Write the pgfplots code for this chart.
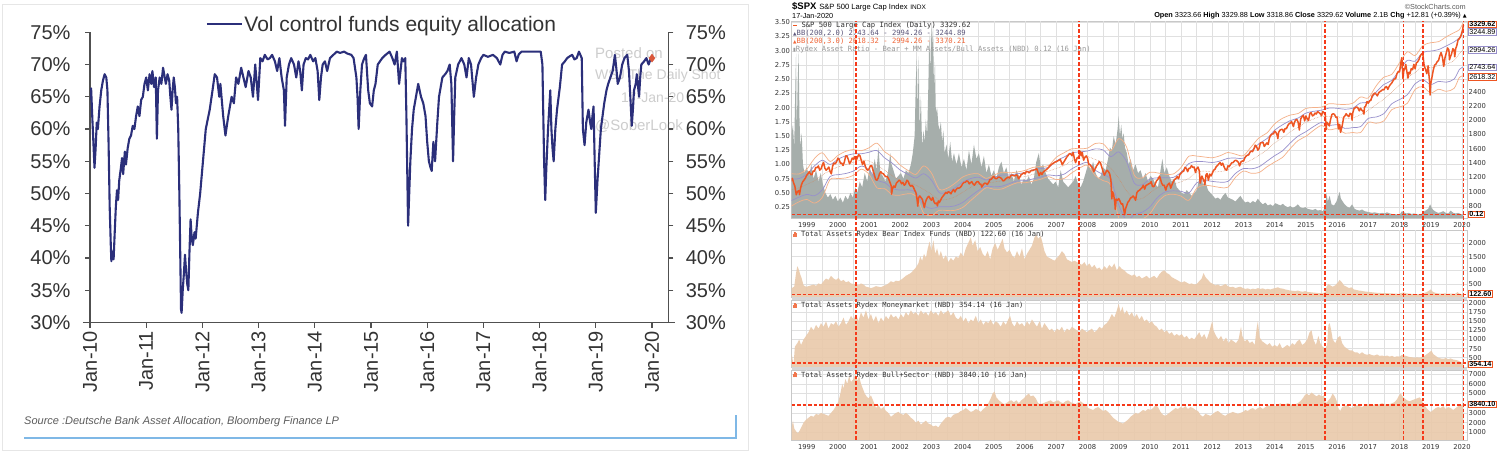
\documentclass[border=0pt]{standalone}
\usepackage{fontspec}
\setmainfont{Liberation Sans}
\newfontfamily\dv{DejaVu Sans}
\newfontfamily\dvm{DejaVu Sans Mono}
\usepackage{pgfplots}
\pgfplotsset{compat=1.18}
\usepackage{pgfplotstable}
\usepgfplotslibrary{fillbetween}
\newcommand\fs[1]{\fontsize{#1}{#1}\selectfont}
\definecolor{navy}{HTML}{2B2F7A}
\definecolor{axg}{HTML}{505050}
\definecolor{lab}{HTML}{333333}
\definecolor{wm}{HTML}{CDCDCD}
\definecolor{diam}{HTML}{D9573B}
\definecolor{srcblue}{HTML}{7FB8E6}
\definecolor{frame}{HTML}{E6E6E6}
\definecolor{spx}{HTML}{EE5522}
\definecolor{bbtwo}{HTML}{9890CC}
\definecolor{bbthree}{HTML}{F5B088}
\definecolor{bbmid}{HTML}{D08860}
\definecolor{ratiog}{HTML}{A6AEAB}
\definecolor{tan}{HTML}{E9C9AA}
\definecolor{reddash}{HTML}{F53A1A}
\definecolor{gridc}{HTML}{E0E0E0}
\definecolor{pgray}{HTML}{C8C8C8}
\definecolor{strip}{HTML}{D6D6D6}
\definecolor{tk}{HTML}{333333}
\definecolor{bbfillin}{HTML}{8A6A9A}

\pgfplotstableread{
x y
2010.00 64.5
2010.02 66.3
2010.04 62
2010.06 58
2010.08 54
2010.10 57
2010.12 61
2010.14 60
2010.17 63.5
2010.20 66
2010.23 67.5
2010.26 68.5
2010.29 68
2010.31 66
2010.33 58
2010.35 48
2010.37 42
2010.38 39.5
2010.40 41
2010.42 39.8
2010.44 44
2010.46 48
2010.48 50.5
2010.50 49
2010.52 52
2010.55 54
2010.57 55.5
2010.59 53
2010.62 56.5
2010.64 54.5
2010.67 57
2010.70 58.5
2010.73 59
2010.76 60.5
2010.79 60
2010.82 62
2010.85 63.5
2010.88 62
2010.91 64.5
2010.94 65
2010.97 67
2011.00 68
2011.03 66
2011.06 68.5
2011.09 67
2011.11 69
2011.14 66.5
2011.17 68
2011.19 58.5
2011.21 66
2011.24 68
2011.27 67
2011.30 69.5
2011.32 68.5
2011.35 67
2011.38 68.5
2011.41 67.5
2011.43 65
2011.45 63
2011.47 66
2011.49 68
2011.51 66.5
2011.53 64
2011.55 65
2011.57 60
2011.59 50
2011.61 38
2011.62 32
2011.63 31.5
2011.65 35
2011.67 37.5
2011.69 40.5
2011.71 38
2011.73 36
2011.75 35
2011.77 41
2011.79 46
2011.81 43
2011.83 42
2011.86 44
2011.88 43
2011.92 47
2011.96 50
2012.01 55
2012.06 60
2012.13 63
2012.18 66
2012.22 68.5
2012.26 68
2012.30 65
2012.32 67
2012.37 62
2012.41 59
2012.46 62
2012.52 65
2012.56 64
2012.60 68
2012.64 67
2012.69 69.5
2012.73 68
2012.77 66.5
2012.82 69
2012.86 68
2012.90 65
2012.94 70
2012.99 64.5
2013.03 71
2013.07 70.5
2013.11 71.5
2013.16 70.8
2013.20 71
2013.24 71.5
2013.29 70.5
2013.33 69
2013.37 71
2013.41 68
2013.45 66
2013.47 60.5
2013.50 68
2013.54 70
2013.58 71
2013.63 70
2013.67 68
2013.71 70.5
2013.74 69
2013.77 66
2013.80 70
2013.84 71
2013.88 70.8
2013.92 71.5
2013.97 70.5
2014.01 71
2014.05 69
2014.08 64.5
2014.11 68
2014.14 70
2014.18 70.5
2014.22 69
2014.27 71
2014.33 71.5
2014.39 72
2014.45 71.8
2014.52 72
2014.58 71.7
2014.65 71.5
2014.69 71
2014.74 68
2014.76 65
2014.78 60
2014.81 66
2014.84 70
2014.88 71
2014.91 71.5
2014.95 66
2014.98 64
2015.02 63.5
2015.05 66
2015.08 67
2015.12 70
2015.16 70.5
2015.20 71
2015.26 71.5
2015.33 72
2015.38 71
2015.42 70
2015.46 72
2015.50 67
2015.55 71
2015.58 70.5
2015.61 71
2015.63 62
2015.66 45
2015.68 50
2015.70 55
2015.73 60
2015.76 63
2015.80 65
2015.84 67
2015.89 65
2015.93 64
2015.97 62
2016.00 58
2016.03 55
2016.06 54
2016.08 53.5
2016.11 58
2016.14 55
2016.18 61
2016.21 65
2016.27 68
2016.32 68.5
2016.36 69
2016.40 70
2016.43 67
2016.46 55
2016.48 62
2016.50 68
2016.55 70
2016.61 71
2016.66 70
2016.70 68
2016.74 71
2016.78 70
2016.83 65
2016.87 68
2016.91 70
2016.96 71
2017.00 71.5
2017.08 71.2
2017.17 71.5
2017.24 71
2017.30 70
2017.34 71.5
2017.38 72
2017.46 71.8
2017.55 72
2017.59 70.5
2017.63 71.6
2017.68 72
2017.78 72
2017.88 72
2017.95 72
2018.02 72
2018.05 70
2018.08 55
2018.10 49
2018.12 54
2018.15 60
2018.19 66
2018.21 60
2018.23 57
2018.25 55
2018.28 60
2018.31 63
2018.36 66.5
2018.40 70
2018.45 70.5
2018.49 71
2018.54 71.3
2018.58 71.5
2018.62 70.8
2018.66 71
2018.70 72
2018.75 71
2018.77 60
2018.80 57.5
2018.83 61
2018.87 63
2018.90 61
2018.92 60
2018.94 62
2018.96 63.5
2018.98 55
2019.00 47
2019.03 52
2019.06 56
2019.09 60
2019.12 62
2019.15 64
2019.19 66
2019.22 67
2019.26 68
2019.30 69
2019.34 71.5
2019.37 69
2019.39 67
2019.43 68
2019.47 70
2019.51 71
2019.56 71.5
2019.59 69
2019.62 64
2019.64 60.5
2019.66 63
2019.68 66
2019.71 67
2019.73 68.5
2019.77 65
2019.79 68
2019.81 70
2019.86 70.5
2019.90 71
2019.94 70
2019.98 71
}\volctl

\pgfplotstableread{
x y
1998.50 1148
1998.54 1186
1998.583 1120
1998.62 1080
1998.667 957
1998.70 1000
1998.75 1017
1998.77 959
1998.80 1040
1998.833 1098
1998.875 1140
1998.917 1163
1998.96 1190
1999.00 1229
1999.04 1250
1999.083 1280
1999.125 1240
1999.167 1238
1999.21 1290
1999.25 1286
1999.29 1340
1999.333 1335
1999.375 1360
1999.417 1301
1999.46 1320
1999.50 1372
1999.54 1410
1999.583 1329
1999.625 1300
1999.667 1320
1999.71 1345
1999.75 1282
1999.79 1250
1999.833 1362
1999.875 1400
1999.917 1389
1999.96 1420
2000.00 1469
2000.04 1450
2000.083 1394
2000.125 1400
2000.167 1366
2000.21 1420
2000.25 1499
2000.29 1500
2000.333 1452
2000.375 1390
2000.417 1421
2000.46 1470
2000.50 1455
2000.54 1490
2000.583 1431
2000.625 1480
2000.667 1518
2000.71 1500
2000.75 1437
2000.79 1380
2000.833 1429
2000.875 1360
2000.917 1315
2000.96 1300
2001.00 1320
2001.04 1360
2001.083 1366
2001.125 1300
2001.167 1240
2001.21 1170
2001.25 1160
2001.29 1190
2001.333 1249
2001.375 1280
2001.417 1256
2001.46 1250
2001.50 1224
2001.54 1210
2001.583 1211
2001.625 1180
2001.667 1134
2001.71 1080
2001.72 966
2001.75 1041
2001.79 1080
2001.833 1060
2001.875 1120
2001.917 1139
2001.96 1160
2002.00 1148
2002.04 1110
2002.083 1130
2002.125 1090
2002.167 1107
2002.21 1160
2002.25 1147
2002.29 1100
2002.333 1076
2002.375 1090
2002.417 1067
2002.46 1020
2002.50 990
2002.54 880
2002.56 797
2002.583 912
2002.625 940
2002.667 916
2002.71 890
2002.75 815
2002.77 777
2002.80 840
2002.833 886
2002.875 920
2002.917 936
2002.96 900
2003.00 880
2003.04 920
2003.083 856
2003.125 830
2003.167 841
2003.19 800
2003.22 870
2003.25 848
2003.29 880
2003.333 917
2003.375 940
2003.417 964
2003.46 990
2003.50 975
2003.54 1000
2003.583 990
2003.625 970
2003.667 1008
2003.71 1030
2003.75 996
2003.79 1030
2003.833 1051
2003.875 1050
2003.917 1058
2003.96 1080
2004.00 1112
2004.04 1130
2004.083 1131
2004.125 1150
2004.167 1145
2004.21 1110
2004.25 1126
2004.29 1140
2004.333 1107
2004.375 1090
2004.417 1121
2004.46 1140
2004.50 1141
2004.54 1110
2004.583 1102
2004.61 1064
2004.667 1104
2004.71 1120
2004.75 1115
2004.79 1100
2004.833 1130
2004.875 1170
2004.917 1174
2004.96 1200
2005.00 1212
2005.04 1185
2005.083 1181
2005.125 1200
2005.167 1204
2005.21 1195
2005.25 1181
2005.29 1150
2005.333 1157
2005.375 1180
2005.417 1192
2005.46 1205
2005.50 1191
2005.54 1225
2005.583 1234
2005.625 1225
2005.667 1220
2005.71 1235
2005.75 1229
2005.79 1180
2005.833 1207
2005.875 1240
2005.917 1249
2005.96 1265
2006.00 1248
2006.04 1285
2006.083 1280
2006.125 1265
2006.167 1281
2006.21 1300
2006.25 1295
2006.29 1305
2006.333 1311
2006.375 1320
2006.417 1270
2006.45 1223
2006.50 1270
2006.54 1240
2006.583 1277
2006.625 1290
2006.667 1304
2006.71 1320
2006.75 1336
2006.79 1360
2006.833 1378
2006.875 1390
2006.917 1401
2006.96 1415
2007.00 1418
2007.04 1430
2007.083 1438
2007.125 1455
2007.167 1407
2007.19 1375
2007.25 1421
2007.29 1450
2007.333 1482
2007.375 1505
2007.417 1531
2007.46 1530
2007.50 1503
2007.54 1550
2007.583 1455
2007.62 1406
2007.667 1474
2007.71 1480
2007.75 1527
2007.77 1565
2007.80 1500
2007.833 1549
2007.875 1440
2007.917 1481
2007.96 1500
2008.00 1468
2008.04 1380
2008.083 1378
2008.125 1350
2008.167 1331
2008.20 1280
2008.25 1323
2008.29 1360
2008.333 1386
2008.375 1420
2008.417 1400
2008.46 1340
2008.50 1280
2008.54 1230
2008.583 1267
2008.625 1300
2008.667 1283
2008.71 1250
2008.75 1166
2008.78 899
2008.80 1000
2008.833 969
2008.875 850
2008.89 752
2008.917 896
2008.96 880
2009.00 903
2009.04 870
2009.083 826
2009.125 830
2009.167 735
2009.19 677
2009.22 760
2009.25 798
2009.29 850
2009.333 873
2009.375 910
2009.417 919
2009.46 940
2009.50 919
2009.54 880
2009.583 987
2009.625 1010
2009.667 1021
2009.71 1040
2009.75 1057
2009.79 1090
2009.833 1036
2009.875 1090
2009.917 1096
2009.96 1110
2010.00 1115
2010.04 1140
2010.083 1074
2010.125 1070
2010.167 1104
2010.21 1150
2010.25 1169
2010.31 1217
2010.333 1187
2010.375 1120
2010.417 1089
2010.46 1090
2010.50 1031
2010.51 1022
2010.54 1070
2010.583 1102
2010.625 1120
2010.667 1049
2010.71 1100
2010.75 1141
2010.79 1170
2010.833 1183
2010.875 1210
2010.917 1181
2010.96 1240
2011.00 1258
2011.04 1280
2011.083 1286
2011.125 1340
2011.167 1327
2011.21 1280
2011.25 1326
2011.29 1330
2011.333 1364
2011.375 1340
2011.417 1345
2011.46 1270
2011.50 1321
2011.54 1345
2011.583 1292
2011.61 1120
2011.64 1180
2011.667 1219
2011.71 1170
2011.75 1131
2011.76 1099
2011.80 1240
2011.833 1253
2011.875 1160
2011.917 1247
2011.96 1220
2012.00 1258
2012.04 1300
2012.083 1312
2012.125 1350
2012.167 1366
2012.21 1390
2012.25 1408
2012.29 1370
2012.333 1398
2012.375 1350
2012.417 1310
2012.46 1300
2012.50 1362
2012.54 1350
2012.583 1379
2012.625 1405
2012.667 1407
2012.71 1430
2012.75 1441
2012.79 1430
2012.833 1412
2012.875 1360
2012.917 1416
2012.96 1430
2013.00 1426
2013.04 1470
2013.083 1498
2013.125 1510
2013.167 1515
2013.21 1555
2013.25 1569
2013.29 1560
2013.333 1598
2013.375 1650
2013.417 1631
2013.46 1580
2013.50 1606
2013.54 1680
2013.583 1686
2013.625 1690
2013.667 1633
2013.71 1660
2013.75 1682
2013.79 1660
2013.833 1757
2013.875 1790
2013.917 1806
2013.96 1810
2014.00 1848
2014.04 1830
2014.083 1783
2014.10 1741
2014.125 1830
2014.167 1859
2014.21 1870
2014.25 1872
2014.29 1830
2014.333 1884
2014.375 1880
2014.417 1924
2014.46 1950
2014.50 1960
2014.54 1980
2014.583 1931
2014.60 1910
2014.625 1960
2014.667 2003
2014.71 2010
2014.75 1972
2014.79 1862
2014.833 2018
2014.875 2050
2014.917 2068
2014.96 1990
2015.00 2059
2015.04 2020
2015.083 1995
2015.125 2090
2015.167 2105
2015.21 2060
2015.25 2068
2015.29 2100
2015.333 2086
2015.375 2120
2015.417 2107
2015.46 2090
2015.50 2063
2015.54 2120
2015.583 2104
2015.62 2080
2015.65 1867
2015.667 1972
2015.71 1950
2015.75 1920
2015.79 2010
2015.833 2079
2015.875 2090
2015.917 2080
2015.96 2040
2016.00 2044
2016.04 1880
2016.083 1940
2016.11 1829
2016.167 1932
2016.21 2040
2016.25 2060
2016.29 2090
2016.333 2065
2016.375 2050
2016.417 2097
2016.46 2080
2016.48 2000
2016.50 2099
2016.54 2160
2016.583 2174
2016.625 2185
2016.667 2171
2016.71 2130
2016.75 2168
2016.79 2140
2016.833 2126
2016.86 2085
2016.875 2180
2016.917 2199
2016.96 2260
2017.00 2239
2017.04 2270
2017.083 2279
2017.125 2340
2017.167 2364
2017.21 2380
2017.25 2363
2017.29 2340
2017.333 2384
2017.375 2400
2017.417 2412
2017.46 2430
2017.50 2423
2017.54 2460
2017.583 2470
2017.625 2430
2017.667 2472
2017.71 2500
2017.75 2519
2017.79 2550
2017.833 2575
2017.875 2580
2017.917 2648
2017.96 2680
2018.00 2674
2018.04 2790
2018.07 2873
2018.083 2824
2018.11 2581
2018.14 2700
2018.167 2714
2018.20 2780
2018.25 2641
2018.27 2588
2018.30 2670
2018.333 2648
2018.375 2720
2018.417 2705
2018.46 2780
2018.50 2718
2018.54 2800
2018.583 2816
2018.625 2850
2018.667 2902
2018.72 2930
2018.75 2914
2018.79 2760
2018.833 2711
2018.875 2650
2018.917 2760
2018.96 2550
2018.98 2351
2019.00 2507
2019.04 2600
2019.083 2704
2019.125 2770
2019.167 2784
2019.21 2820
2019.25 2834
2019.29 2900
2019.333 2946
2019.375 2880
2019.417 2752
2019.46 2880
2019.50 2942
2019.54 3010
2019.583 2980
2019.60 2844
2019.625 2880
2019.667 2926
2019.71 3000
2019.75 2977
2019.77 2887
2019.80 3000
2019.833 3038
2019.875 3120
2019.917 3141
2019.96 3170
2020.00 3231
2020.02 3260
2020.046 3330
}\spxdata

\pgfplotstableread{
x m u2 l2 u3 l3
1998.50 1025 1177 873 1253 797
1998.75 1053 1183 923 1248 858
1999.00 1102 1242 962 1312 892
1999.25 1152 1360 944 1464 840
1999.50 1232 1440 1024 1544 920
1999.75 1297 1381 1213 1423 1171
2000.00 1345 1453 1237 1507 1183
2000.25 1378 1502 1254 1564 1192
2000.50 1409 1529 1289 1589 1229
2000.75 1444 1530 1358 1573 1315
2001.00 1428 1552 1304 1614 1242
2001.25 1367 1575 1159 1679 1055
2001.50 1300 1472 1128 1558 1042
2001.75 1220 1396 1044 1484 956
2002.00 1162 1302 1022 1372 952
2002.25 1134 1242 1026 1296 972
2002.50 1091 1191 991 1241 941
2002.75 1031 1251 811 1361 701
2003.00 963 1161 765 1260 666
2003.25 888 986 790 1035 741
2003.50 892 996 788 1048 736
2003.75 928 1054 802 1117 739
2004.00 992 1134 850 1205 779
2004.25 1059 1183 935 1245 873
2004.50 1109 1203 1015 1250 968
2004.75 1120 1164 1076 1186 1054
2005.00 1133 1199 1067 1232 1034
2005.25 1154 1232 1076 1271 1037
2005.50 1174 1234 1114 1264 1084
2005.75 1200 1250 1150 1275 1125
2006.00 1211 1269 1153 1298 1124
2006.25 1243 1307 1179 1339 1147
2006.50 1264 1324 1204 1354 1174
2006.75 1287 1339 1235 1365 1209
2007.00 1326 1430 1222 1482 1170
2007.25 1365 1485 1245 1545 1185
2007.50 1432 1544 1320 1600 1264
2007.75 1466 1556 1376 1601 1331
2008.00 1489 1569 1409 1609 1369
2008.25 1449 1599 1299 1674 1224
2008.50 1412 1584 1240 1670 1154
2008.75 1328 1490 1166 1571 1085
2009.00 1187 1557 817 1742 632
2009.25 1012 1422 602 1627 397
2009.50 900 1120 680 1230 570
2009.75 904 1096 712 1192 616
2010.00 982 1176 788 1273 691
2010.25 1058 1194 922 1262 854
2010.50 1096 1194 998 1243 949
2010.75 1106 1200 1012 1247 965
2011.00 1139 1273 1005 1340 938
2011.25 1188 1394 982 1497 879
2011.50 1273 1423 1123 1498 1048
2011.75 1287 1419 1155 1485 1089
2012.00 1276 1408 1144 1474 1078
2012.25 1281 1429 1133 1503 1059
2012.50 1305 1467 1143 1548 1062
2012.75 1364 1470 1258 1523 1205
2013.00 1396 1468 1324 1504 1288
2013.25 1443 1567 1319 1629 1257
2013.50 1511 1673 1349 1754 1268
2013.75 1584 1742 1426 1821 1347
2014.00 1682 1860 1504 1949 1415
2014.25 1753 1935 1571 2026 1480
2014.50 1838 1994 1682 2072 1604
2014.75 1904 2030 1778 2093 1715
2015.00 1969 2099 1839 2164 1774
2015.25 2018 2124 1912 2177 1859
2015.50 2054 2140 1968 2183 1925
2015.75 2048 2170 1926 2231 1865
2016.00 2052 2166 1938 2223 1881
2016.25 2019 2153 1885 2220 1818
2016.50 2032 2168 1896 2236 1828
2016.75 2075 2241 1909 2324 1826
2017.00 2140 2254 2026 2311 1969
2017.25 2218 2392 2044 2479 1957
2017.50 2296 2500 2092 2602 1990
2017.75 2393 2557 2229 2639 2147
2018.00 2494 2700 2288 2803 2185
2018.25 2596 2836 2356 2956 2236
2018.50 2667 2825 2509 2904 2430
2018.75 2756 2948 2564 3044 2468
2019.00 2732 2966 2498 3083 2381
2019.25 2765 2987 2543 3098 2432
2019.50 2785 3039 2531 3166 2404
2019.75 2835 3095 2575 3225 2445
2019.92 2932 3154 2710 3265 2599
2020.046 2994.26 3244.89 2743.64 3370.21 2618.32
}\bbdata

\pgfplotstableread{
x y
1998.52 1.55
1998.56 1.7
1998.60 1.3
1998.63 2.2
1998.66 2.95
1998.68 1.5
1998.71 2.4
1998.74 2.98
1998.77 1.8
1998.80 1.3
1998.84 1.55
1998.88 1.0
1998.93 0.85
1999.00 0.95
1999.08 0.8
1999.15 1.0
1999.22 0.75
1999.30 0.9
1999.38 0.7
1999.45 0.85
1999.52 0.65
1999.60 0.5
1999.68 0.42
1999.76 0.48
1999.84 0.38
1999.92 0.45
2000.00 0.35
2000.08 0.42
2000.16 0.33
2000.24 0.45
2000.32 0.38
2000.40 0.5
2000.48 0.42
2000.56 0.6
2000.62 0.5
2000.70 0.7
2000.78 0.6
2000.86 0.85
2000.94 0.7
2001.02 0.95
2001.10 0.8
2001.18 1.1
2001.24 0.9
2001.30 1.3
2001.36 0.85
2001.44 0.8
2001.52 0.7
2001.60 0.85
2001.68 1.2
2001.72 1.0
2001.78 0.9
2001.86 0.75
2001.94 0.8
2002.02 0.85
2002.10 0.75
2002.18 0.9
2002.26 0.85
2002.34 1.0
2002.40 1.2
2002.46 1.5
2002.50 2.5
2002.53 2.85
2002.56 1.9
2002.59 2.9
2002.62 1.6
2002.66 2.2
2002.70 1.3
2002.74 1.6
2002.78 1.4
2002.82 1.8
2002.86 1.5
2002.90 2.4
2002.93 3.3
2002.96 2.6
2002.99 3.4
2003.02 3.1
2003.05 3.45
2003.08 2.3
2003.11 2.8
2003.14 1.9
2003.18 2.0
2003.22 1.7
2003.26 1.6
2003.30 1.75
2003.34 1.4
2003.38 1.6
2003.42 1.2
2003.48 1.35
2003.54 1.1
2003.60 1.4
2003.66 1.05
2003.72 1.2
2003.80 1.0
2003.88 1.2
2003.96 0.95
2004.04 1.1
2004.12 0.9
2004.20 1.25
2004.28 1.0
2004.36 1.35
2004.44 1.1
2004.52 1.2
2004.60 0.95
2004.68 1.15
2004.76 0.85
2004.84 1.0
2004.92 0.8
2005.00 0.9
2005.08 0.75
2005.16 0.95
2005.24 1.05
2005.32 0.85
2005.40 0.95
2005.48 0.75
2005.56 0.85
2005.64 0.7
2005.72 0.9
2005.80 0.8
2005.88 0.65
2005.96 0.75
2006.04 0.7
2006.12 0.8
2006.20 0.65
2006.28 0.75
2006.36 1.05
2006.44 1.2
2006.50 0.95
2006.58 1.0
2006.66 0.85
2006.74 0.75
2006.82 0.7
2006.90 0.65
2006.98 0.7
2007.06 0.6
2007.14 0.9
2007.22 0.7
2007.30 0.65
2007.38 0.6
2007.46 0.65
2007.54 0.7
2007.62 0.8
2007.70 0.65
2007.78 0.6
2007.86 0.7
2007.94 0.85
2008.02 1.0
2008.10 0.9
2008.18 1.05
2008.26 0.85
2008.34 0.75
2008.42 0.8
2008.50 0.95
2008.58 0.9
2008.66 1.1
2008.72 1.3
2008.78 1.25
2008.84 1.5
2008.90 1.35
2008.96 1.6
2009.00 1.85
2009.04 1.5
2009.08 1.7
2009.12 1.45
2009.16 1.55
2009.20 1.3
2009.26 1.2
2009.32 1.0
2009.38 1.1
2009.46 0.9
2009.54 1.0
2009.62 0.85
2009.70 0.9
2009.78 0.75
2009.86 0.85
2009.94 0.7
2010.02 0.8
2010.10 0.75
2010.18 0.65
2010.26 0.6
2010.34 0.9
2010.40 1.1
2010.46 0.85
2010.54 0.95
2010.62 0.8
2010.70 0.7
2010.78 0.75
2010.86 0.6
2010.94 0.55
2011.02 0.5
2011.10 0.48
2011.18 0.55
2011.26 0.5
2011.34 0.45
2011.42 0.5
2011.50 0.55
2011.58 0.75
2011.64 0.8
2011.70 0.65
2011.78 0.7
2011.86 0.55
2011.94 0.5
2012.02 0.45
2012.10 0.4
2012.18 0.42
2012.26 0.38
2012.34 0.45
2012.42 0.5
2012.50 0.42
2012.58 0.4
2012.66 0.38
2012.74 0.35
2012.82 0.4
2012.90 0.45
2012.98 0.38
2013.06 0.33
2013.14 0.35
2013.22 0.32
2013.30 0.36
2013.38 0.33
2013.46 0.4
2013.54 0.34
2013.62 0.3
2013.70 0.33
2013.78 0.28
2013.86 0.3
2013.94 0.27
2014.02 0.32
2014.10 0.3
2014.18 0.28
2014.26 0.31
2014.34 0.27
2014.42 0.25
2014.50 0.27
2014.58 0.24
2014.66 0.26
2014.74 0.3
2014.82 0.25
2014.90 0.23
2014.98 0.25
2015.06 0.22
2015.14 0.21
2015.22 0.2
2015.30 0.22
2015.38 0.19
2015.46 0.2
2015.54 0.18
2015.62 0.25
2015.66 0.5
2015.70 0.35
2015.76 0.45
2015.82 0.3
2015.90 0.28
2015.98 0.35
2016.04 0.45
2016.08 0.52
2016.12 0.4
2016.18 0.35
2016.24 0.3
2016.32 0.26
2016.40 0.24
2016.48 0.3
2016.56 0.22
2016.64 0.2
2016.72 0.19
2016.80 0.21
2016.88 0.18
2016.96 0.17
2017.04 0.16
2017.12 0.15
2017.20 0.16
2017.28 0.15
2017.36 0.14
2017.44 0.15
2017.52 0.14
2017.60 0.16
2017.68 0.14
2017.76 0.13
2017.84 0.13
2017.92 0.12
2018.00 0.12
2018.08 0.18
2018.14 0.16
2018.22 0.14
2018.30 0.15
2018.38 0.13
2018.46 0.14
2018.54 0.13
2018.62 0.12
2018.70 0.13
2018.78 0.17
2018.86 0.2
2018.92 0.22
2018.98 0.3
2019.02 0.25
2019.08 0.2
2019.16 0.17
2019.24 0.15
2019.32 0.16
2019.40 0.18
2019.48 0.15
2019.56 0.14
2019.64 0.19
2019.72 0.15
2019.80 0.14
2019.88 0.15
2019.96 0.13
2020.05 0.12
}\ratio

\pgfplotstableread{
x y
1998.52 350
1998.60 400
1998.66 900
1998.70 1150
1998.74 1050
1998.78 900
1998.84 700
1998.90 450
1998.98 400
1999.06 420
1999.14 450
1999.22 480
1999.30 430
1999.38 520
1999.46 480
1999.54 600
1999.62 700
1999.70 650
1999.78 800
1999.86 700
1999.94 650
2000.02 720
2000.10 600
2000.18 650
2000.26 560
2000.34 600
2000.42 520
2000.50 500
2000.58 480
2000.66 450
2000.74 520
2000.82 480
2000.90 400
2000.98 380
2001.06 350
2001.14 380
2001.22 420
2001.30 400
2001.38 380
2001.46 430
2001.54 460
2001.62 520
2001.70 600
2001.78 560
2001.86 620
2001.94 600
2002.02 650
2002.10 720
2002.18 800
2002.26 850
2002.34 900
2002.42 1000
2002.50 1100
2002.58 1250
2002.64 1500
2002.70 1350
2002.76 1600
2002.82 1450
2002.88 1800
2002.94 2050
2003.00 1700
2003.06 2100
2003.12 1600
2003.18 1800
2003.24 1500
2003.30 1700
2003.38 1400
2003.46 1550
2003.54 1300
2003.62 1450
2003.70 1350
2003.78 1500
2003.86 1450
2003.94 1650
2004.02 1500
2004.10 1800
2004.18 2000
2004.26 2200
2004.32 1900
2004.40 2100
2004.48 1700
2004.56 1850
2004.64 1600
2004.72 1500
2004.80 1700
2004.88 1400
2004.96 1800
2005.04 2000
2005.12 1750
2005.20 1950
2005.28 2150
2005.34 1800
2005.42 1650
2005.50 1750
2005.58 1550
2005.66 1450
2005.74 1700
2005.82 1500
2005.90 1800
2005.98 1400
2006.06 1600
2006.14 1750
2006.22 1900
2006.30 2200
2006.36 2300
2006.42 2150
2006.50 2250
2006.56 2000
2006.62 1700
2006.70 1500
2006.78 1450
2006.86 1400
2006.94 1350
2007.02 1450
2007.10 1550
2007.18 1700
2007.26 1600
2007.34 1400
2007.42 1350
2007.50 1300
2007.58 1350
2007.66 1300
2007.74 1250
2007.82 1200
2007.90 1300
2007.98 1150
2008.06 1250
2008.14 1100
2008.22 1200
2008.30 1050
2008.38 1100
2008.46 1000
2008.54 1150
2008.62 1050
2008.70 1200
2008.78 1100
2008.86 1250
2008.94 1000
2009.02 1150
2009.10 1050
2009.18 1000
2009.26 900
2009.34 850
2009.42 800
2009.50 850
2009.58 750
2009.66 800
2009.74 700
2009.82 750
2009.90 800
2009.98 700
2010.06 750
2010.14 800
2010.22 700
2010.30 850
2010.38 950
2010.46 1000
2010.54 900
2010.62 850
2010.70 750
2010.78 700
2010.86 650
2010.94 600
2011.02 550
2011.10 600
2011.18 550
2011.26 500
2011.34 520
2011.42 480
2011.50 500
2011.58 600
2011.66 700
2011.72 900
2011.78 750
2011.86 650
2011.94 550
2012.02 500
2012.10 450
2012.18 480
2012.26 420
2012.34 450
2012.42 500
2012.50 420
2012.58 380
2012.66 400
2012.74 350
2012.82 380
2012.90 400
2012.98 350
2013.06 320
2013.14 340
2013.22 300
2013.30 330
2013.38 310
2013.46 350
2013.54 320
2013.62 340
2013.70 300
2013.78 320
2013.86 300
2013.94 330
2014.02 350
2014.10 380
2014.18 340
2014.26 330
2014.34 300
2014.42 280
2014.50 260
2014.58 250
2014.66 240
2014.74 260
2014.82 230
2014.90 220
2014.98 240
2015.06 210
2015.14 200
2015.22 190
2015.30 180
2015.38 170
2015.46 165
2015.54 160
2015.62 200
2015.66 400
2015.72 500
2015.78 450
2015.86 400
2015.94 450
2016.02 550
2016.08 650
2016.14 580
2016.22 450
2016.30 400
2016.38 350
2016.46 380
2016.54 300
2016.62 280
2016.70 260
2016.78 250
2016.86 230
2016.94 220
2017.02 210
2017.10 200
2017.18 190
2017.26 180
2017.34 175
2017.42 170
2017.50 165
2017.58 170
2017.66 160
2017.74 155
2017.82 150
2017.90 145
2017.98 140
2018.06 170
2018.14 190
2018.22 160
2018.30 150
2018.38 140
2018.46 135
2018.54 130
2018.62 130
2018.70 135
2018.78 160
2018.86 200
2018.94 250
2019.00 300
2019.06 220
2019.14 180
2019.22 160
2019.30 150
2019.38 145
2019.46 160
2019.54 140
2019.62 150
2019.70 145
2019.78 140
2019.86 200
2019.92 150
2019.98 130
2020.05 122.6
}\bear

\pgfplotstableread{
x y
1998.52 600
1998.58 300
1998.62 800
1998.70 900
1998.76 1000
1998.82 850
1998.90 1000
1998.98 1100
1999.06 1200
1999.14 1350
1999.22 1250
1999.30 1400
1999.38 1300
1999.46 1450
1999.54 1350
1999.62 1500
1999.70 1300
1999.78 1450
1999.86 1400
1999.94 1500
2000.02 1350
2000.10 1450
2000.18 1600
2000.26 1400
2000.34 1500
2000.42 1650
2000.50 1550
2000.58 1700
2000.66 1500
2000.74 1750
2000.82 1600
2000.90 1800
2000.98 1550
2001.06 1700
2001.14 1500
2001.22 1650
2001.30 1450
2001.38 1600
2001.46 1500
2001.54 1650
2001.62 1550
2001.70 1700
2001.78 1600
2001.86 1650
2001.94 1550
2002.02 1700
2002.10 1600
2002.18 1750
2002.26 1650
2002.34 1800
2002.42 1700
2002.50 1750
2002.58 1650
2002.66 1800
2002.74 1700
2002.82 1750
2002.90 1650
2002.98 1800
2003.06 1700
2003.14 1750
2003.22 1650
2003.30 1800
2003.38 1700
2003.46 1750
2003.54 1800
2003.62 1650
2003.70 1750
2003.78 1600
2003.86 1550
2003.94 1650
2004.02 1500
2004.10 1600
2004.18 1450
2004.26 1550
2004.34 1500
2004.42 1650
2004.50 1450
2004.58 1550
2004.66 1400
2004.74 1500
2004.82 1450
2004.90 1550
2004.98 1400
2005.06 1500
2005.14 1450
2005.22 1350
2005.30 1500
2005.38 1400
2005.46 1550
2005.52 1650
2005.58 1450
2005.66 1350
2005.74 1500
2005.82 1400
2005.90 1450
2005.98 1350
2006.06 1500
2006.14 1400
2006.22 1550
2006.30 1450
2006.38 1350
2006.46 1500
2006.54 1300
2006.62 1450
2006.70 1350
2006.78 1250
2006.86 1300
2006.94 1200
2007.02 1300
2007.10 1250
2007.18 1350
2007.26 1200
2007.34 1300
2007.42 1250
2007.50 1350
2007.58 1300
2007.66 1250
2007.74 1200
2007.82 1300
2007.90 1250
2007.98 1200
2008.06 1250
2008.14 1300
2008.22 1200
2008.30 1250
2008.38 1350
2008.46 1300
2008.54 1400
2008.62 1450
2008.70 1550
2008.78 1700
2008.86 1600
2008.94 1800
2009.00 1980
2009.06 1750
2009.12 1900
2009.18 1700
2009.26 1800
2009.34 1650
2009.42 1750
2009.50 1600
2009.58 1700
2009.66 1550
2009.74 1650
2009.82 1500
2009.90 1550
2009.98 1450
2010.06 1500
2010.14 1400
2010.22 1350
2010.30 1250
2010.38 1300
2010.46 1200
2010.54 1250
2010.62 1150
2010.70 1200
2010.78 1100
2010.86 1150
2010.94 1100
2011.02 1150
2011.10 1050
2011.18 1100
2011.26 1000
2011.34 1050
2011.42 1000
2011.50 1100
2011.58 1200
2011.66 1050
2011.74 1150
2011.82 1000
2011.90 1200
2011.96 1400
2012.00 1500
2012.04 1250
2012.12 1100
2012.20 1000
2012.28 1100
2012.36 950
2012.44 1050
2012.52 900
2012.60 1000
2012.68 950
2012.76 900
2012.84 1000
2012.92 1350
2012.96 1100
2013.04 950
2013.12 1000
2013.20 900
2013.28 950
2013.36 850
2013.42 1300
2013.46 1500
2013.52 1050
2013.60 950
2013.68 900
2013.76 850
2013.84 900
2013.92 800
2014.00 850
2014.08 800
2014.16 900
2014.24 750
2014.32 800
2014.40 850
2014.48 800
2014.56 900
2014.64 850
2014.72 950
2014.80 1000
2014.88 850
2014.96 900
2015.04 1000
2015.12 1200
2015.18 1250
2015.24 1000
2015.32 850
2015.40 1100
2015.46 900
2015.54 800
2015.62 750
2015.68 850
2015.72 1400
2015.76 1450
2015.80 1300
2015.86 1000
2015.94 900
2016.02 1050
2016.10 1100
2016.16 900
2016.24 800
2016.32 750
2016.40 700
2016.48 700
2016.56 650
2016.64 650
2016.72 600
2016.80 650
2016.88 600
2016.96 580
2017.04 600
2017.12 570
2017.20 560
2017.28 590
2017.36 550
2017.44 560
2017.52 540
2017.60 560
2017.68 530
2017.76 550
2017.84 520
2017.92 540
2018.00 530
2018.08 580
2018.16 560
2018.24 540
2018.32 520
2018.40 510
2018.48 500
2018.56 510
2018.64 500
2018.72 520
2018.80 550
2018.88 600
2018.96 650
2019.02 700
2019.08 600
2019.16 550
2019.24 500
2019.32 480
2019.40 470
2019.48 490
2019.56 460
2019.64 480
2019.72 450
2019.80 440
2019.88 420
2019.96 380
2020.05 354.14
}\mm

\pgfplotstableread{
x y
1998.52 1500
1998.56 2200
1998.60 1400
1998.66 1100
1998.72 900
1998.78 1200
1998.84 1600
1998.90 2000
1998.98 2300
1999.06 2500
1999.14 2700
1999.22 2600
1999.30 2900
1999.38 2800
1999.46 3000
1999.54 2900
1999.62 2800
1999.70 2700
1999.78 3000
1999.86 3300
1999.94 3700
2000.02 4200
2000.08 5000
2000.14 6000
2000.18 5500
2000.24 6500
2000.30 6000
2000.36 6800
2000.42 6200
2000.50 6500
2000.56 7000
2000.62 6300
2000.68 6800
2000.74 6000
2000.80 5500
2000.86 5000
2000.92 4700
2000.98 4500
2001.06 4800
2001.14 4200
2001.22 3500
2001.30 3800
2001.38 3400
2001.46 3600
2001.54 3200
2001.62 3000
2001.70 2600
2001.78 2800
2001.86 3000
2001.94 3100
2002.02 2900
2002.10 2800
2002.18 3000
2002.26 2800
2002.34 2500
2002.42 2300
2002.50 2000
2002.58 2200
2002.66 1800
2002.74 2000
2002.82 2200
2002.90 1900
2002.98 1800
2003.06 1600
2003.14 1700
2003.22 1500
2003.30 1900
2003.38 2200
2003.46 2500
2003.54 2600
2003.62 2500
2003.70 2800
2003.78 2900
2003.86 3000
2003.94 3200
2004.02 3300
2004.10 3500
2004.18 3300
2004.26 3100
2004.34 3200
2004.42 3400
2004.50 3300
2004.58 3100
2004.66 3400
2004.74 3600
2004.82 4000
2004.90 4500
2004.96 5000
2005.02 5200
2005.08 4600
2005.16 4300
2005.24 4100
2005.32 3900
2005.40 4000
2005.48 4200
2005.56 4300
2005.64 4100
2005.72 4300
2005.80 4000
2005.88 4300
2005.96 4500
2006.04 4800
2006.12 5000
2006.18 4700
2006.26 4800
2006.34 4500
2006.42 4000
2006.50 3900
2006.58 4000
2006.66 4100
2006.74 4200
2006.82 4300
2006.90 4100
2006.98 4200
2007.06 4300
2007.14 4100
2007.22 4000
2007.30 4200
2007.38 4300
2007.46 4100
2007.54 4000
2007.62 3900
2007.70 4100
2007.78 4200
2007.86 4000
2007.94 3800
2008.02 3500
2008.10 3400
2008.18 3300
2008.26 3500
2008.34 3600
2008.42 3400
2008.50 3200
2008.58 3300
2008.66 3100
2008.74 2800
2008.82 2500
2008.90 2300
2008.98 2100
2009.06 2000
2009.14 1900
2009.22 2100
2009.30 2300
2009.38 2600
2009.46 2800
2009.54 3000
2009.62 2900
2009.70 3100
2009.78 3300
2009.86 3200
2009.94 3400
2010.02 3300
2010.10 3500
2010.18 3800
2010.26 3600
2010.34 3100
2010.42 2800
2010.50 2700
2010.58 2900
2010.66 3100
2010.74 3300
2010.82 3500
2010.90 3400
2010.98 3600
2011.06 3500
2011.14 3700
2011.22 3400
2011.30 3600
2011.38 3500
2011.46 3300
2011.54 3200
2011.62 2800
2011.70 2600
2011.78 2900
2011.86 2800
2011.94 2700
2012.02 2900
2012.10 3100
2012.18 3200
2012.26 3000
2012.34 2800
2012.42 2700
2012.50 2900
2012.58 3000
2012.66 3100
2012.74 3000
2012.82 2900
2012.90 3000
2012.98 3100
2013.06 3300
2013.14 3200
2013.22 3400
2013.30 3500
2013.38 3300
2013.46 3500
2013.54 3600
2013.62 3400
2013.70 3600
2013.78 3800
2013.86 3700
2013.94 3900
2014.02 3700
2014.10 3800
2014.18 4000
2014.26 3800
2014.34 3900
2014.42 4000
2014.50 3900
2014.58 3800
2014.66 3900
2014.74 4000
2014.82 4200
2014.90 4500
2014.96 4800
2015.02 5000
2015.10 4800
2015.18 5100
2015.26 4900
2015.34 4700
2015.42 4900
2015.50 4700
2015.58 4800
2015.64 4000
2015.70 4200
2015.78 4500
2015.86 5000
2015.92 4700
2015.98 4300
2016.04 3500
2016.10 3200
2016.16 3600
2016.24 3700
2016.32 3800
2016.40 3600
2016.48 3500
2016.56 3700
2016.64 3800
2016.72 3700
2016.80 3600
2016.88 3800
2016.96 3900
2017.04 3800
2017.12 3700
2017.20 3900
2017.28 3800
2017.36 3900
2017.44 4000
2017.52 3900
2017.60 3800
2017.68 3900
2017.76 4000
2017.84 4100
2017.92 4400
2017.98 4800
2018.04 5000
2018.10 4700
2018.16 4500
2018.24 4300
2018.32 4200
2018.40 4300
2018.48 4400
2018.56 4500
2018.64 4600
2018.70 4400
2018.76 4000
2018.84 3600
2018.92 3300
2019.00 3100
2019.08 3300
2019.16 3500
2019.24 3600
2019.32 3500
2019.40 3700
2019.48 3400
2019.56 3600
2019.64 3500
2019.72 3300
2019.80 3500
2019.88 3700
2019.96 3800
2020.05 3840.1
}\bull

\pgfplotsset{
  scbase/.style={scale only axis, width=675.3pt, xmin=1998.52, xmax=2020.163,
    axis line style={draw=pgray, line width=0.5pt},
    major tick length=0pt,
    tick label style={font=\dv\fs{6.8}, text=tk},
    yticklabel style={inner sep=1.5pt}},
  scgrid/.style={ymajorgrids, grid style={gridc, line width=0.45pt},
    extra x ticks={1998.5,1999,1999.5,2000,2000.5,2001,2001.5,2002,2002.5,2003,2003.5,2004,2004.5,2005,2005.5,2006,2006.5,2007,2007.5,2008,2008.5,2009,2009.5,2010,2010.5,2011,2011.5,2012,2012.5,2013,2013.5,2014,2014.5,2015,2015.5,2016,2016.5,2017,2017.5,2018,2018.5,2019,2019.5,2020},
    extra x tick labels={},
    extra x tick style={grid=major}},
  years/.style={xtick={1999,2000,2001,2002,2003,2004,2005,2006,2007,2008,2009,2010,2011,2012,2013,2014,2015,2016,2017,2018,2019,2020},
    xticklabels={1999,2000,2001,2002,2003,2004,2005,2006,2007,2008,2009,2010,2011,2012,2013,2014,2015,2016,2017,2018,2019,2020},
    xtick pos=bottom},
  noyears/.style={xtick=\empty},
  rdash/.style={reddash, line width=1.5pt, dash pattern=on 3.5pt off 2pt},
}
\tikzset{vbox/.style={draw=#1, fill=white, line width=0.7pt, inner xsep=1pt, inner ysep=0.7pt, anchor=west, font=\fs{7.2}, text=black}}

\begin{document}
\begin{tikzpicture}
\fill[white] (0,0) rectangle (1500pt,452pt);
% ---------- LEFT CHART ----------
\draw[frame, line width=0.8pt] (2pt,2pt) rectangle (748pt,448pt);
\node[anchor=west, text=wm, font=\fs{15}, inner sep=0pt] at (595pt,398.7pt) {Posted on};
\node[anchor=west, text=wm, font=\fs{14}, inner sep=0pt] at (595pt,376pt) {WSJ The Daily Shot};
\node[anchor=west, text=wm, font=\fs{14}, inner sep=0pt] at (621pt,354pt) {17-Jan-20};
\node[anchor=west, text=wm, font=\fs{15}, inner sep=0pt] at (595pt,326pt) {@SoberLook};

\begin{axis}[
  at={(90pt,129.5pt)}, anchor=south west, scale only axis,
  width=578.3pt, height=290.2pt,
  xmin=2010, xmax=2020.29, ymin=30, ymax=75,
  axis x line*=bottom, axis y line*=left,
  axis line style={draw=axg, line width=1.2pt, -},
  x axis line style={shorten <=-7pt, shorten >=-7pt},
  tick align=outside, major tick length=5pt,
  every tick/.style={draw=axg, line width=1.2pt},
  xtick={2010,2011,2012,2013,2014,2015,2016,2017,2018,2019,2020},
  xticklabels={Jan-10,Jan-11,Jan-12,Jan-13,Jan-14,Jan-15,Jan-16,Jan-17,Jan-18,Jan-19,Jan-20},
  ytick={30,35,40,45,50,55,60,65,70,75},
  yticklabels={30\%,35\%,40\%,45\%,50\%,55\%,60\%,65\%,70\%,75\%},
  xticklabel style={rotate=90, anchor=east, font=\fs{20}, text=lab},
  yticklabel style={font=\fs{20}, text=lab, xshift=-11pt},
  legend style={at={(0.2,1.0276)}, anchor=west, draw=none, fill=none, inner sep=0pt,
     font=\fs{21}, text=lab, nodes={inner xsep=1.5pt, inner ysep=0pt}},
  legend image code/.code={\draw[#1] (0pt,0pt) -- (35pt,0pt);},
]
\addplot[navy, line width=2.1pt, line join=round] table {\volctl};
\addlegendentry{Vol control funds equity allocation}
\addplot[forget plot, only marks, mark=diamond*, mark size=4pt, color=diam] coordinates {(2020.0,71.0)};
\end{axis}
\begin{axis}[
  at={(90pt,129.5pt)}, anchor=south west, scale only axis,
  width=578.3pt, height=290.2pt,
  xmin=2010, xmax=2020.29, ymin=30, ymax=75,
  axis x line=none, axis y line*=right,
  axis line style={draw=axg, line width=1.2pt, -},
  tick align=outside, major tick length=5pt,
  every tick/.style={draw=axg, line width=1.2pt},
  ytick={30,35,40,45,50,55,60,65,70,75},
  yticklabels={30\%,35\%,40\%,45\%,50\%,55\%,60\%,65\%,70\%,75\%},
  yticklabel style={font=\fs{20}, text=lab, xshift=9pt},
]
\addplot[draw=none] coordinates {(2015,50)};
\end{axis}
\node[anchor=west, font=\fs{11}\itshape, text=lab!80, inner sep=0pt] at (24pt,30.3pt) {Source :Deutsche Bank Asset Allocation, Bloomberg Finance LP};
\draw[srcblue, line width=1.8pt] (24pt,14pt) -- (736pt,14pt) -- (736pt,37pt);

% ---------- RIGHT CHART ----------
\node[anchor=west, inner sep=0pt, text=black] at (792pt,445.3pt) {{\fs{9.5}\bfseries \$SPX} {\fs{7.6}S\&P 500 Large Cap Index} {\fs{6.5}INDX}};
\node[anchor=west, inner sep=0pt, font=\fs{7.3}, text=black] at (792pt,436.3pt) {17-Jan-2020};
\node[anchor=east, inner sep=0pt, font=\fs{7.3}, text=black] at (1467pt,436.3pt) {\textbf{Open} 3323.66 \textbf{High} 3329.88 \textbf{Low} 3318.86 \textbf{Close} 3329.62 \textbf{Volume} 2.1B \textbf{Chg} +12.81 (+0.39\%) {\dv\fs{5}▲}};
\node[anchor=east, inner sep=0pt, font=\fs{7.3}, text=black!65] at (1466pt,445.3pt) {©StockCharts.com};

% top panel: ratio axis
\begin{axis}[scbase, scgrid, years,
  at={(791.7pt,234pt)}, anchor=south west, height=197pt,
  ymin=0.06, ymax=3.523, ytick pos=left,
  ytick={0.25,0.5,0.75,1,1.25,1.5,1.75,2,2.25,2.5,2.75,3,3.25,3.5},
  yticklabels={0.25,0.50,0.75,1.00,1.25,1.50,1.75,2.00,2.25,2.50,2.75,3.00,3.25,3.50},
  xticklabel style={yshift=-0.5pt}]
\addplot[fill=ratiog, draw=none] table {\ratio} \closedcycle;
\end{axis}
% top panel: price axis
\begin{axis}[scbase, at={(791.7pt,234pt)}, anchor=south west, height=197pt,
  ymin=632, ymax=3387, xtick=\empty, ytick pos=right, axis line style={draw=none},
  ytick={800,1000,1200,1400,1600,1800,2000,2200,2400},
  yticklabels={800,1000,1200,1400,1600,1800,2000,2200,2400}]
\addplot[draw=none, name path=u3] table[x=x,y=u3] {\bbdata};
\addplot[draw=none, name path=l3] table[x=x,y=l3] {\bbdata};
\addplot[draw=none, name path=u2] table[x=x,y=u2] {\bbdata};
\addplot[draw=none, name path=l2] table[x=x,y=l2] {\bbdata};
\addplot[fill=bbthree, fill opacity=0.36] fill between[of=u3 and l3];
\addplot[fill=bbfillin, fill opacity=0.3] fill between[of=u2 and l2];
\addplot[bbthree, line width=0.7pt, smooth] table[x=x,y=u3] {\bbdata};
\addplot[bbthree, line width=0.7pt, smooth] table[x=x,y=l3] {\bbdata};
\addplot[bbtwo, line width=0.7pt, smooth] table[x=x,y=u2] {\bbdata};
\addplot[bbtwo, line width=0.7pt, smooth] table[x=x,y=l2] {\bbdata};
\addplot[bbmid, line width=0.5pt, densely dotted, smooth] table[x=x,y=m] {\bbdata};
\addplot[spx, line width=1.5pt, line join=round] table {\spxdata};
\end{axis}
% top panel overlay: red dashed reference
\begin{axis}[scbase, at={(791.7pt,234pt)}, anchor=south west, height=197pt,
  ymin=0.06, ymax=3.523, axis line style={draw=none}, xtick=\empty, ytick=\empty]
\addplot[rdash] coordinates {(1998.52,0.12) (2020.163,0.12)};
\end{axis}
% legend text in top panel
\node[anchor=west, inner sep=0pt, font=\dvm\fs{7.2}, text=black!80] at (793pt,426.3pt) {{\color{spx}\rule[1.6pt]{4pt}{1.2pt}} S\&P 500 Large Cap Index (Daily) 3329.62};
\node[anchor=west, inner sep=0pt, font=\dvm\fs{7.2}, text=bbtwo!60!black] at (793pt,418.7pt) {{\dv\fs{4.5}▲}BB(200,2.0) 2743.64 - 2994.26 - 3244.89};
\node[anchor=west, inner sep=0pt, font=\dvm\fs{7.2}, text=spx!90] at (793pt,410.3pt) {{\dv\fs{4.5}▲}BB(200,3.0) 2618.32 - 2994.26 - 3370.21};
\node[anchor=west, inner sep=0pt, font=\dvm\fs{7.2}, text=black!40] at (793pt,403pt) {{\dv\fs{5}▮}Rydex Asset Ratio - Bear + MM Assets/Bull Assets (NBD) 0.12 (16 Jan)};

% panel 2: Bear
\begin{axis}[scbase, scgrid, noyears, at={(791.7pt,155pt)}, anchor=south west, height=67pt,
  ymin=25, ymax=2471, ytick pos=right,
  ytick={500,1000,1500,2000}, yticklabels={500,1000,1500,2000}]
\addplot[fill=tan, fill opacity=0.9, draw=none] table {\bear} \closedcycle;
\addplot[rdash] coordinates {(1998.52,122.6) (2020.163,122.6)};
\end{axis}
% panel 3: Money market
\begin{axis}[scbase, scgrid, noyears, at={(791.7pt,85pt)}, anchor=south west, height=67pt,
  ymin=245, ymax=2085, ytick pos=right,
  ytick={500,750,1000,1250,1500,1750,2000}, yticklabels={500,750,1000,1250,1500,1750,2000}]
\addplot[fill=tan, fill opacity=0.9, draw=none] table {\mm} \closedcycle;
\addplot[rdash] coordinates {(1998.52,354.14) (2020.163,354.14)};
\end{axis}
% panel 4: Bull+Sector
\begin{axis}[scbase, scgrid, years, at={(791.7pt,12pt)}, anchor=south west, height=70pt,
  ymin=206, ymax=7423, ytick pos=right,
  ytick={1000,2000,3000,5000,6000,7000}, yticklabels={1000,2000,3000,5000,6000,7000},
  xticklabel style={yshift=-0.5pt}]
\addplot[fill=tan, fill opacity=0.9, draw=none] table {\bull} \closedcycle;
\addplot[rdash] coordinates {(1998.52,3840.1) (2020.163,3840.1)};
\end{axis}
\fill[strip] (791.7pt,152pt) rectangle (1467pt,155pt);
\fill[strip] (791.7pt,82pt) rectangle (1467pt,85pt);
% panel titles
\node[anchor=west, inner sep=0pt, font=\dvm\fs{7.1}, text=black!80] at (793pt,217pt) {{\color{spx!80}\rule{1.2pt}{3pt}\rule{1.2pt}{5pt}\rule{1.2pt}{4pt}} Total Assets Rydex Bear Index Funds (NBD) 122.60 (16 Jan)};
\node[anchor=west, inner sep=0pt, font=\dvm\fs{7.1}, text=black!80] at (793pt,146pt) {{\color{spx!80}\rule{1.2pt}{3pt}\rule{1.2pt}{5pt}\rule{1.2pt}{4pt}} Total Assets Rydex Moneymarket (NBD) 354.14 (16 Jan)};
\node[anchor=west, inner sep=0pt, font=\dvm\fs{7.1}, text=black!80] at (793pt,76.5pt) {{\color{spx!80}\rule{1.2pt}{3pt}\rule{1.2pt}{5pt}\rule{1.2pt}{4pt}} Total Assets Rydex Bull+Sector (NBD) 3840.10 (16 Jan)};

% overlay: vertical red dashed lines
\begin{axis}[scbase, at={(791.7pt,12pt)}, anchor=south west, height=419pt,
  ymin=0, ymax=1, axis line style={draw=none}, xtick=\empty, ytick=\empty]
\addplot[rdash] coordinates {(2000.58,0) (2000.58,1)};
\addplot[rdash] coordinates {(2007.73,0) (2007.73,1)};
\addplot[rdash] coordinates {(2015.61,0) (2015.61,1)};
\addplot[rdash] coordinates {(2018.12,0) (2018.12,1)};
\addplot[rdash] coordinates {(2018.76,0) (2018.76,1)};
\addplot[rdash] coordinates {(2020.05,0) (2020.05,1)};
\end{axis}

% value boxes
\node[vbox=bbtwo] at (1468pt,420.3pt) {3244.89};
\node[vbox=spx] at (1468pt,427.7pt) {\textbf{3329.62}};
\node[vbox=bbtwo] at (1468pt,402pt) {2994.26};
\node[vbox=bbtwo] at (1468pt,384.7pt) {2743.64};
\node[vbox=spx] at (1468pt,375.3pt) {2618.32};
\node[vbox=spx] at (1468pt,237.7pt) {\textbf{0.12}};
\node[vbox=spx] at (1468pt,158pt) {\textbf{122.60}};
\node[vbox=spx] at (1468pt,87.7pt) {\textbf{354.14}};
\node[vbox=spx] at (1468pt,47.7pt) {\textbf{3840.10}};
\end{tikzpicture}
\end{document}
